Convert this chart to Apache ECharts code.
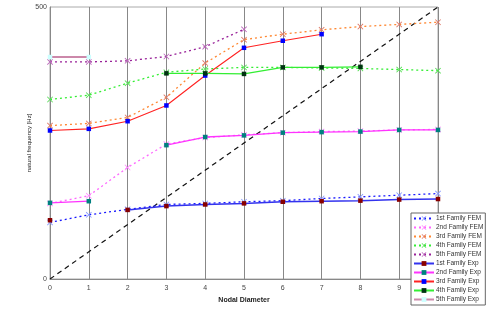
<!DOCTYPE html>
<html><head><meta charset="utf-8">
<script src="https://cdn.jsdelivr.net/npm/echarts@6/dist/echarts.min.js"></script>
<style>html,body{margin:0;padding:0;background:#fff}#c{width:498px;height:314px}</style>
</head><body><div id="c"></div>
<script>
var nodalDiameters = [0,1,2,3,4,5,6,7,8,9,10];
var xTickLabels = ['0','1','2','3','4','5','6','7','8','9',''];
var yTickLabels = ['0','500'];
var fem1 = [104,118,128,137,139,142,144,148,151,154,157];
var fem2 = [139,153,205,248,260,265,269,271,272,274,275];
var fem3 = [282,286,297,334,397,440,450,458,464,468,472];
var fem4 = [330,338,360,380,386,389,389,388,387,385,383];
var fem5 = [399,399,401,409,427,459,null,null,null,null,null];
var exp1 = [108,null,127,134,137,139,142,143,144,146,147];
var exp2 = [140,143,null,246,261,264,269,270,271,274,274];
var exp3 = [273,276,290,319,374,425,438,450,null,null,null];
var exp4 = [null,null,null,378,378,377,389,389,390,null,null];
var exp5 = [408,408,null,null,null,null,null,null,null,null,null];
var lineEnds = [0,10];
var lineVals = [0,500];
var seriesNames = ['1st Family FEM','2nd Family FEM','3rd Family FEM','4th Family FEM','5th Family FEM','1st Family Exp','2nd Family Exp','3rd Family Exp','4th Family Exp','5th Family Exp'];

function pts(arr){ return nodalDiameters.map(function(x,i){ return [x, arr[i]]; }); }
var X = 'path://M0,1L1,0L5,4L9,0L10,1L6,5L10,9L9,10L5,6L1,10L0,9L4,5Z';
function fem(name, arr, lc, mc){
  return {name:name, type:'line', data:pts(arr), symbol:X, symbolSize:6, connectNulls:false,
    lineStyle:{color:lc, width:1.3, type:[2,3]}, itemStyle:{color:mc}, z:2};
}
function exp(name, arr, lc, mc, w){
  return {name:name, type:'line', data:pts(arr), symbol:'rect', symbolSize:4.5, connectNulls:false,
    lineStyle:{color:lc, width:w||1.3, type:'solid'}, itemStyle:{color:mc}, z:3};
}
var chart = echarts.init(document.getElementById('c'), null, {renderer:'canvas'});
chart.setOption({
  animation:false,
  backgroundColor:'#fff',
  grid:{left:50, right:60, top:7, bottom:35, show:true, borderColor:'#aaa', borderWidth:1},
  xAxis:{type:'value', min:0, max:10, interval:1,
    name:'Nodal Diameter', nameLocation:'middle', nameGap:17,
    nameTextStyle:{fontSize:7, fontWeight:'bold', color:'#222', fontFamily:'Liberation Sans'},
    axisLine:{show:true, lineStyle:{color:'#888'}}, axisTick:{show:false},
    axisLabel:{fontSize:7, color:'#444', margin:6, fontFamily:'Liberation Sans',
      formatter:function(v){ return xTickLabels[v]; }},
    splitLine:{show:true, lineStyle:{color:'#888', width:1}}},
  yAxis:{type:'value', min:0, max:500, interval:500,
    name:'natural frequency [Hz]', nameLocation:'middle', nameGap:18, nameMoveOverlap:false,
    nameTextStyle:{fontSize:6, color:'#222', fontFamily:'Liberation Sans'},
    axisLine:{show:true, lineStyle:{color:'#888'}}, axisTick:{show:false},
    axisLabel:{fontSize:7, color:'#444', margin:3, fontFamily:'Liberation Sans',
      formatter:function(v){ return v===0?yTickLabels[0]:yTickLabels[1]; }},
    splitLine:{show:false}},
  legend:{orient:'vertical', left:411, top:213, width:72,
    itemWidth:20, itemHeight:6, itemGap:2, padding:[2,2,2,2],
    borderColor:'#666', borderWidth:1, backgroundColor:'#fff',
    textStyle:{fontSize:6.5, color:'#333', fontFamily:'Liberation Sans', padding:[0,0,0,-3]},
    data:seriesNames},
  series:[
    {name:'ref', type:'line', data:[[lineEnds[0],lineVals[0]],[lineEnds[1],lineVals[1]]], symbol:'none',
      lineStyle:{color:'#111', width:1.2, type:[5,4]}, z:1, silent:true},
    fem(seriesNames[0], fem1, '#1a1aff', '#8899ff'),
    fem(seriesNames[1], fem2, '#ff66ff', '#ff88ff'),
    fem(seriesNames[2], fem3, '#ff8833', '#dd7766'),
    fem(seriesNames[3], fem4, '#33ee33', '#55dd55'),
    fem(seriesNames[4], fem5, '#992299', '#bb66bb'),
    exp(seriesNames[5], exp1, '#3333ee', '#880000', 1.5),
    exp(seriesNames[6], exp2, '#ff33ff', '#008080', 1.3),
    exp(seriesNames[7], exp3, '#ff2222', '#0000ff', 1.1),
    exp(seriesNames[8], exp4, '#33ee33', '#003311', 1.4),
    exp(seriesNames[9], exp5, '#cc88aa', '#ccffff', 2)
  ]
});
</script></body></html>
